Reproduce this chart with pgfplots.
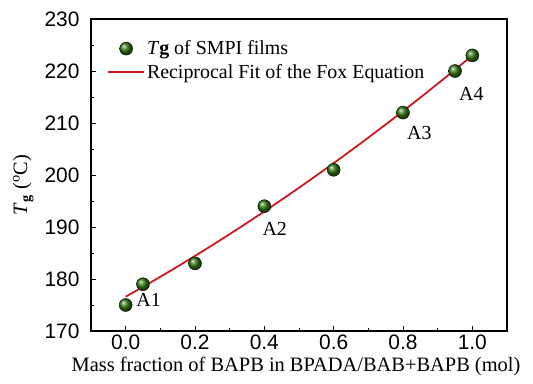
\documentclass[border=0pt]{standalone}
\usepackage{fontspec}
\setmainfont{Liberation Serif}
\newfontfamily\arial{Liberation Sans}
\usepackage{pgfplots}
\pgfplotsset{compat=1.18}

\definecolor{fitred}{RGB}{205,25,30}
\definecolor{ballgreen}{RGB}{50,120,15}

\pgfplotsset{
  ball legend/.style={legend image code/.code={\draw[##1] plot coordinates {(18bp,0bp)};}},
  fit legend/.style={legend image code/.code={\draw[##1] (0bp,0bp) -- (36bp,0bp);}},
}

\begin{document}
\begin{tikzpicture}
\useasboundingbox (-91bp,-53bp) rectangle (442bp,331bp);
\begin{axis}[
  at={(0,0)}, anchor=south west,
  scale only axis, width=416bp, height=312bp,
  xmin=-0.1, xmax=1.1, ymin=170, ymax=230,
  xtick={0,0.2,0.4,0.6,0.8,1.0},
  minor xtick={0.1,0.3,0.5,0.7,0.9},
  ytick={170,180,...,230},
  minor ytick={175,185,...,225},
  tick pos=left, tick align=inside,
  major tick length=5bp, minor tick length=3bp,
  axis line style={line width=1.2bp},
  every tick/.style={black, line width=1bp},
  xticklabel style={/pgf/number format/.cd, fixed, fixed zerofill, precision=1},
  yticklabel style={xshift=-8bp},
  /pgf/number format/assume math mode=true,
  tick label style={font=\arial\fontsize{21}{21}\selectfont},
  xlabel={Mass fraction of BAPB in BPADA/BAB+BAPB (mol)},
  ylabel={\textit{T}\textsubscript{\textbf{g}} (\textsuperscript{o}C)},
  label style={font=\fontsize{20.5}{20.5}\selectfont},
  xlabel style={xshift=-3bp, yshift=-1bp},
  ylabel style={at={(axis description cs:-0.163,0.468)}, anchor=center},
  legend style={draw=none, fill=none, inner sep=0pt,
    at={(0.0385,0.937)}, anchor=north west,
    font=\fontsize{20}{20}\selectfont,
    row sep=4bp},
  legend cell align=left,
]
\addplot[only marks, mark=ball, mark size=6.5bp, mark options={ball color=ballgreen},
  ball legend]
  coordinates {(0,175) (0.05,179) (0.2,183) (0.4,194) (0.6,201) (0.8,212) (0.95,220) (1.0,223)};
\addlegendentry{\textit{T}\textbf{g} of SMPI films}

\addplot[fitred, line width=1.8bp, no marks, smooth, fit legend]
  coordinates {
    (0.00,176.60) (0.05,178.49) (0.10,180.43) (0.15,182.41) (0.20,184.44)
    (0.25,186.51) (0.30,188.63) (0.35,190.79) (0.40,193.00) (0.45,195.25)
    (0.50,197.55) (0.55,199.89) (0.60,202.28) (0.65,204.71) (0.70,207.19)
    (0.75,209.71) (0.80,212.28) (0.85,214.89) (0.90,217.55) (0.95,220.25)
    (1.00,223.00)};
\addlegendentry{Reciprocal Fit of the Fox Equation}

\node[font=\fontsize{20}{20}\selectfont] at (axis cs:0.066,176.0) {A1};
\node[font=\fontsize{20}{20}\selectfont] at (axis cs:0.43,189.6) {A2};
\node[font=\fontsize{20}{20}\selectfont] at (axis cs:0.847,208.1) {A3};
\node[font=\fontsize{20}{20}\selectfont] at (axis cs:0.997,215.6) {A4};
\end{axis}
\end{tikzpicture}
\end{document}
